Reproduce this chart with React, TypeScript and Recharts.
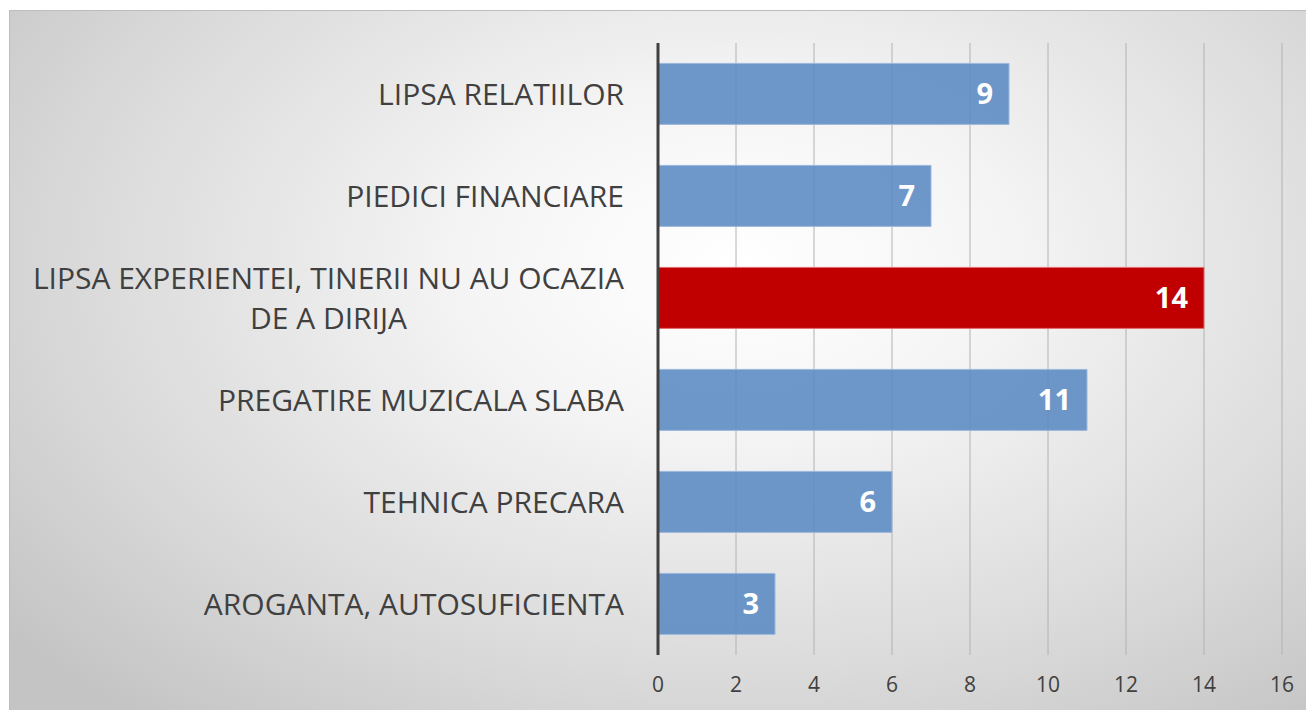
import { Bar, BarChart, CartesianGrid, Cell, LabelList, XAxis, YAxis } from "recharts"

const categories = [
  "LIPSA RELATIILOR",
  "PIEDICI FINANCIARE",
  "LIPSA EXPERIENTEI, TINERII NU AU OCAZIA DE A DIRIJA",
  "PREGATIRE MUZICALA SLABA",
  "TEHNICA PRECARA",
  "AROGANTA, AUTOSUFICIENTA",
]
const values = [9, 7, 14, 11, 6, 3]
const highlighted = [false, false, true, false, false, false]
const xTicks = [0, 2, 4, 6, 8, 10, 12, 14, 16]

const data = categories.map((name, i) => ({ name, value: values[i], hot: highlighted[i] }))

const LABEL_SIZE = 30
const LABEL_FONT = `${LABEL_SIZE}px 'Open Sans'`
const LABEL_MAX = 610

let ctx: CanvasRenderingContext2D | null = null
function measure(text: string) {
  if (!ctx) ctx = document.createElement("canvas").getContext("2d")
  if (!ctx) return text.length * 15
  ctx.font = LABEL_FONT
  return ctx.measureText(text).width
}

function wrap(text: string) {
  const words = text.split(" ")
  const lines: string[] = []
  let cur = ""
  for (const w of words) {
    const next = cur ? cur + " " + w : w
    if (cur && measure(next) > LABEL_MAX) {
      lines.push(cur)
      cur = w
    } else {
      cur = next
    }
  }
  if (cur) lines.push(cur)
  return lines
}

function CategoryTick(props: any) {
  const { x, y, payload } = props
  const lines = wrap(payload.value)
  const lineHeight = 40
  if (lines.length === 1) {
    return (
      <text x={x - 26} y={y} dy="0.35em" textAnchor="end" fill="#404040" fontSize={LABEL_SIZE} fontFamily="'Open Sans'">
        {payload.value}
      </text>
    )
  }
  const widest = Math.max(...lines.map(measure))
  const cx = x - 26 - widest / 2
  const startY = y - ((lines.length - 1) * lineHeight) / 2
  return (
    <text textAnchor="middle" fill="#404040" fontSize={LABEL_SIZE} fontFamily="'Open Sans'">
      {lines.map((l, i) => (
        <tspan key={i} x={cx} y={startY + i * lineHeight} dy="0.35em">
          {l}
        </tspan>
      ))}
    </text>
  )
}

export default function App() {
  return (
    <div style={{ position: "absolute", left: 0, top: 0, width: 1306, height: 710, background: "#fff", overflow: "hidden" }}>
      <div
        style={{
          position: "absolute",
          left: 9,
          top: 10,
          width: 1297,
          height: 700,
          borderTop: "1px solid #bdbdbd",
          borderLeft: "1px solid #bdbdbd",
          background: "radial-gradient(ellipse 72% 85% at 56% 36%, #ffffff 0%, #f5f5f5 28%, #dadada 70%, #c4c4c4 100%)",
        }}
      >
        <BarChart
          width={1297}
          height={700}
          data={data}
          layout="vertical"
          margin={{ top: 32, right: 25, bottom: 0, left: 0 }}
          barCategoryGap="20%"
        >
          <CartesianGrid horizontal={false} stroke="#b2b2b2" strokeWidth={1} />
          <XAxis
            type="number"
            domain={[0, 16]}
            ticks={xTicks}
            axisLine={false}
            tickLine={false}
            tickSize={0}
            tickMargin={22}
            height={56}
            tick={{ fill: "#404040", fontSize: 21, fontFamily: "'Open Sans'" }}
          />
          <YAxis
            type="category"
            dataKey="name"
            width={648}
            axisLine={{ stroke: "#404040", strokeWidth: 3 }}
            tickLine={false}
            tick={<CategoryTick />}
            interval={0}
          />
          <Bar dataKey="value" isAnimationActive={false}>
            {data.map((d, i) => (
              <Cell
                key={i}
                fill={d.hot ? "#c00000" : "#5a8ac3"}
                fillOpacity={d.hot ? 1 : 0.88}
                stroke={d.hot ? "#e07070" : "#9cb8dc"}
                strokeWidth={1}
              />
            ))}
            <LabelList
              dataKey="value"
              position="insideRight"
              offset={16}
              fill="#ffffff"
              fontSize={29}
              fontWeight="bold"
              fontFamily="'Open Sans'"
            />
          </Bar>
        </BarChart>
      </div>
    </div>
  )
}
